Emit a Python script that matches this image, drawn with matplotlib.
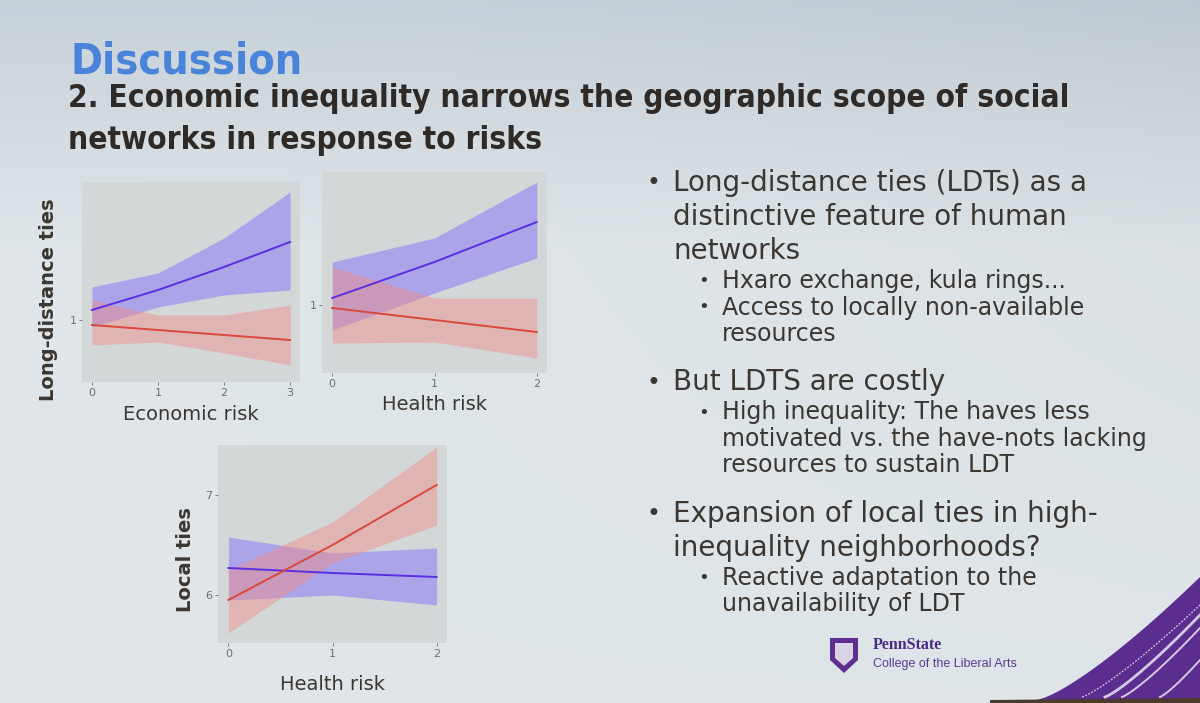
import numpy as np
import matplotlib
matplotlib.use("Agg")
import matplotlib.pyplot as plt
from matplotlib.patches import Polygon

# ---------------- data ----------------
econ_risk = [0, 1, 2, 3]
ldt_econ_low_mean = [1.05, 1.15, 1.265, 1.39]      # blue series
ldt_econ_low_lo = [0.965, 1.065, 1.125, 1.15]
ldt_econ_low_hi = [1.165, 1.235, 1.41, 1.64]
ldt_econ_high_mean = [0.975, 0.95, 0.925, 0.90]    # red series
ldt_econ_high_lo = [0.875, 0.89, 0.835, 0.775]
ldt_econ_high_hi = [1.10, 1.025, 1.025, 1.075]

health_risk = [0, 1, 2]
ldt_health_low_mean = [1.035, 1.215, 1.415]
ldt_health_low_lo = [0.875, 1.06, 1.235]
ldt_health_low_hi = [1.215, 1.335, 1.615]
ldt_health_high_mean = [0.985, 0.925, 0.865]
ldt_health_high_lo = [0.81, 0.815, 0.735]
ldt_health_high_hi = [1.19, 1.035, 1.035]

lt_health_low_mean = [6.27, 6.22, 6.18]
lt_health_low_lo = [5.95, 6.00, 5.90]
lt_health_low_hi = [6.58, 6.42, 6.47]
lt_health_high_mean = [5.95, 6.50, 7.10]
lt_health_high_lo = [5.62, 6.32, 6.70]
lt_health_high_hi = [6.25, 6.73, 7.48]

econ_ticks = [0, 1, 2, 3]
health_ticks = [0, 1, 2]
ldt_yticks = [1]
lt_yticks = [6, 7]

bullets_main = [
    ["Long-distance ties (LDTs) as a", "distinctive feature of human", "networks"],
    ["But LDTS are costly"],
    ["Expansion of local ties in high-", "inequality neighborhoods?"],
]
bullets_sub = [
    [["Hxaro exchange, kula rings..."], ["Access to locally non-available", "resources"]],
    [["High inequality: The haves less", "motivated vs. the have-nots lacking", "resources to sustain LDT"]],
    [["Reactive adaptation to the", "unavailability of LDT"]],
]

# ---------------- style ----------------
W, H = 1200, 703
BLUE_LINE = "#5b2fe0"
BLUE_FILL = "#7a66ff"
RED_LINE = "#d9493a"
RED_FILL = "#f08a84"
PANEL = "#d4d7d8"
TXT = "#3b3631"
TICK = "#6e6e6e"
SANS = ["DejaVu Sans"]

fig = plt.figure(figsize=(W / 100, H / 100), dpi=100)

# background slide with soft gradient
bg = fig.add_axes([0, 0, 1, 1], zorder=-10)
yy, xx = np.mgrid[0:1:200j, 0:1:300j]
top = np.array([0.78, 0.82, 0.85])
mid = np.array([0.875, 0.90, 0.915])
t = np.clip(yy / 0.35, 0, 1)[..., None]
img = top * (1 - t) + mid * t
img = img - 0.03 * (xx[..., None] ** 2) * (1 - yy[..., None])
bg.imshow(img, extent=[0, W, H, 0], aspect="auto", interpolation="bicubic")
bg.set_xlim(0, W)
bg.set_ylim(H, 0)
bg.axis("off")


# purple swoosh bottom-right
def swoosh(x0, y0, x1, y1, p=1.27, n=40):
    xs = np.linspace(x0, x1, n)
    ys = y0 - (y0 - y1) * ((xs - x0) / (x1 - x0)) ** p
    return xs, ys


sx, sy = swoosh(1040, 699, 1200, 577)
bg.add_patch(Polygon(np.column_stack([np.r_[1030, sx, 1200, 1030], np.r_[703, sy, 703, 703]]),
                     closed=True, color="#5b2d8f", lw=0))
for x0, y1, lw, ls in [(1082, 605, 0.9, (0, (1.5, 1.2))), (1105, 615, 2.0, "-"),
                       (1122, 628, 1.4, "-"), (1160, 660, 1.4, "-")]:
    xs, ys = swoosh(x0, 697, 1200, y1, p=1.2)
    bg.plot(xs, ys, color="#ece6f5", lw=lw, alpha=0.85, ls=ls)
bg.add_patch(Polygon([[990, 703], [1200, 703], [1200, 698], [990, 700]], closed=True,
                     color="#4a3b2c", lw=0))

# PennState logo
bg.add_patch(Polygon([[830, 638], [858, 638], [858, 660], [844, 673], [830, 660]],
                     closed=True, color="#5e2f91", lw=0))
bg.add_patch(Polygon([[835, 643], [853, 643], [853, 658], [844, 666], [835, 658]],
                     closed=True, color="#d8d4e6", lw=0))
bg.text(873, 645, "PennState", fontsize=11.5, fontweight="bold", color="#4a2a86",
        family=["Liberation Serif", "DejaVu Serif"], va="center")
bg.text(873, 664, "College of the Liberal Arts", fontsize=9, color="#5a3a92",
        family=["Liberation Sans", "DejaVu Sans"], va="center")

# titles
bg.text(70, 62, "Discussion", fontsize=31, fontweight="bold", color="#4a84da",
        family=SANS, fontstretch="condensed", va="center")
bg.text(68, 99, "2. Economic inequality narrows the geographic scope of social",
        fontsize=22.7, fontweight="bold", color="#2f2a26", family=SANS,
        fontstretch="condensed", va="center")
bg.text(68, 140, "networks in response to risks", fontsize=22.7, fontweight="bold",
        color="#2f2a26", family=SANS, fontstretch="condensed", va="center")

# bullets on the right
y = 183
for main, subs in zip(bullets_main, bullets_sub):
    bg.text(646, y, "\u2022", fontsize=17, color=TXT, family=SANS, va="center")
    for line in main:
        bg.text(673, y, line, fontsize=20, color=TXT, family=SANS, va="center")
        y += 34
    y -= 4
    for sub in subs:
        bg.text(698, y, "\u2022", fontsize=13, color=TXT, family=SANS, va="center")
        for line in sub:
            bg.text(722, y, line, fontsize=17, color=TXT, family=SANS, va="center")
            y += 26.5
    y += 22


def panel(rect, x, series, xticks, yticks, xlim, ylim, xlabel, ylabel, xlabelpad=6):
    ax = fig.add_axes(rect)
    ax.set_facecolor(PANEL)
    for mean, lo, hi, lc, fc in series:
        ax.fill_between(x, lo, hi, color=fc, alpha=0.45, lw=0)
        ax.plot(x, mean, color=lc, lw=1.4)
    ax.set_xlim(*xlim)
    ax.set_ylim(*ylim)
    ax.set_xticks(xticks)
    ax.set_yticks(yticks)
    ax.tick_params(colors=TICK, labelsize=8, length=2, width=0.6, pad=2)
    for s in ax.spines.values():
        s.set_visible(False)
    ax.set_xlabel(xlabel, fontsize=14, color=TXT, family=SANS, labelpad=xlabelpad)
    if ylabel:
        ax.set_ylabel(ylabel, fontsize=14, color=TXT, family=SANS, fontweight="bold")
    return ax


def frac(l, t, r, b):
    return [l / W, (H - b) / H, (r - l) / W, (b - t) / H]


ax1 = panel(frac(82, 182, 300, 382), econ_risk,
            [(ldt_econ_low_mean, ldt_econ_low_lo, ldt_econ_low_hi, BLUE_LINE, BLUE_FILL),
             (ldt_econ_high_mean, ldt_econ_high_lo, ldt_econ_high_hi, RED_LINE, RED_FILL)],
            econ_ticks, ldt_yticks, (-0.15, 3.15), (0.69, 1.69),
            "Economic risk", "Long-distance ties", xlabelpad=5)
ax1.yaxis.set_label_coords(-0.11, 0.41)

ax2 = panel(frac(322, 172, 547, 373), health_risk,
            [(ldt_health_low_mean, ldt_health_low_lo, ldt_health_low_hi, BLUE_LINE, BLUE_FILL),
             (ldt_health_high_mean, ldt_health_high_lo, ldt_health_high_hi, RED_LINE, RED_FILL)],
            health_ticks, ldt_yticks, (-0.1, 2.1), (0.66, 1.665),
            "Health risk", None, xlabelpad=5)

ax3 = panel(frac(218, 445, 447, 643), health_risk,
            [(lt_health_low_mean, lt_health_low_lo, lt_health_low_hi, BLUE_LINE, BLUE_FILL),
             (lt_health_high_mean, lt_health_high_lo, lt_health_high_hi, RED_LINE, RED_FILL)],
            health_ticks, lt_yticks, (-0.1, 2.1), (5.52, 7.5),
            "Health risk", "Local ties", xlabelpad=12)
ax3.yaxis.set_label_coords(-0.10, 0.42)

fig.savefig("out.png", dpi=100)
